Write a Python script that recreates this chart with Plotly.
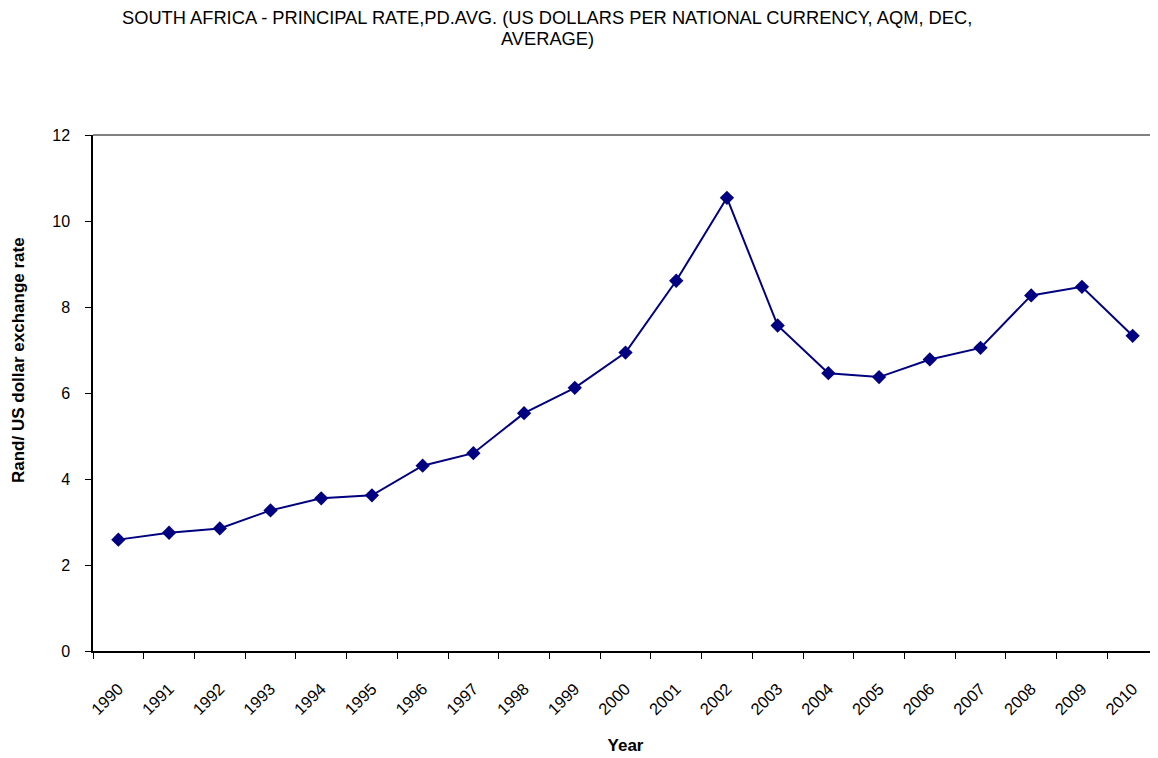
import plotly.graph_objects as go

years = [str(y) for y in range(1990, 2011)]
rates = [2.59, 2.75, 2.85, 3.27, 3.55, 3.62, 4.31, 4.60, 5.53, 6.12, 6.94,
         8.61, 10.54, 7.57, 6.46, 6.37, 6.78, 7.05, 8.27, 8.47, 7.33]
y_ticks = [0, 2, 4, 6, 8, 10, 12]
title_lines = ["SOUTH AFRICA - PRINCIPAL RATE,PD.AVG. (US DOLLARS PER NATIONAL CURRENCY, AQM, DEC,",
               "AVERAGE)"]
y_title = "<b>Rand/ US dollar exchange rate</b>"

FONT = "Liberation Sans, Arial, sans-serif"
# the page body has an 8px margin, so the figure is sized/offset to compensate
W, H = 1150, 750
L, T, B = 85, 127, 107
PW = W - L
PH = H - T - B

fig = go.Figure()
fig.add_trace(go.Scatter(
    x=years, y=rates, mode="lines+markers",
    line=dict(color="#000080", width=2),
    marker=dict(symbol="diamond", size=11, color="#000080"),
    showlegend=False,
))

annotations = []
for line, ypx in zip(title_lines, [9, 30]):
    annotations.append(dict(
        text=line, xref="paper", yref="paper",
        x=(539 - L) / PW, y=1 + (T - ypx) / PH,
        xanchor="center", yanchor="middle", showarrow=False,
        font=dict(family=FONT, size=18.3, color="black"),
    ))
annotations.append(dict(
    text=y_title, xref="paper", yref="paper",
    x=(10 - L) / PW, y=1 - (352 - T) / PH, textangle=-90,
    xanchor="center", yanchor="middle", showarrow=False,
    font=dict(family=FONT, size=17, color="black"),
))

fig.update_layout(
    width=W, height=H,
    margin=dict(l=L, r=0, t=T, b=B),
    paper_bgcolor="white", plot_bgcolor="white",
    font=dict(family=FONT, color="black", size=16),
    annotations=annotations,
    xaxis=dict(
        type="category", range=[-0.5, 20.5],
        tickson="boundaries", ticks="outside", ticklen=6, tickcolor="black",
        showline=True, linecolor="black", linewidth=1.5,
        showgrid=False, tickangle=-45, ticklabelstandoff=20,
        tickfont=dict(family=FONT, size=16.5, color="black"),
        title=dict(text="<b>Year</b>", font=dict(family=FONT, size=17), standoff=22),
    ),
    yaxis=dict(
        range=[0, 12], tickvals=y_ticks, ticks="outside", ticklen=6, tickcolor="black",
        showline=True, linecolor="black", linewidth=1.5, showgrid=False,
        zeroline=False, ticklabelstandoff=12,
        tickfont=dict(family=FONT, size=16, color="black"),
    ),
    shapes=[dict(type="line", xref="paper", yref="paper", x0=0, x1=1, y0=1, y1=1,
                 line=dict(color="#808080", width=2))],
)

fig.write_html("out.html")
